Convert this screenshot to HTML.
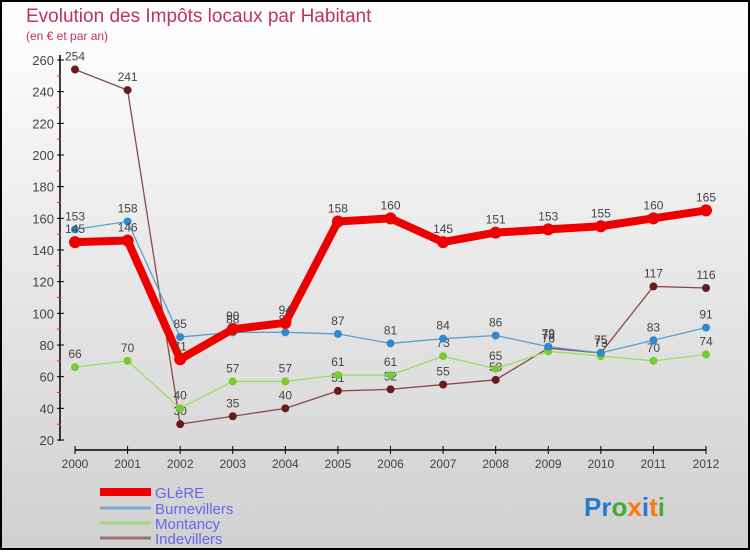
<!DOCTYPE html>
<html><head><meta charset="utf-8"><style>
body{margin:0}
svg text{font-family:"Liberation Sans",sans-serif}
</style></head><body>
<svg id="c" width="750" height="550" xmlns="http://www.w3.org/2000/svg">
<defs><linearGradient id="bg" x1="0" y1="0" x2="0" y2="1"><stop offset="0" stop-color="#ffffff"/><stop offset="1" stop-color="#d0d0d0"/></linearGradient></defs>
<rect x="1" y="1" width="748" height="548" fill="url(#bg)" stroke="#000" stroke-width="2"/>
<text x="26" y="22" font-size="19" fill="#c0306a">Evolution des Impôts locaux par Habitant</text>
<text x="26" y="40" font-size="12" fill="#c0306a">(en € et par an)</text>
<g id="axes"></g><g id="series"></g>
<g>
<line x1="100" y1="492" x2="151" y2="492" stroke="#ee0000" stroke-width="8"/>
<text x="155" y="498" font-size="15" fill="#6666ee">GLèRE</text>
<line x1="100" y1="508" x2="151" y2="508" stroke="#7aaad0" stroke-width="3"/>
<text x="155" y="514" font-size="15" fill="#6666ee">Burnevillers</text>
<line x1="100" y1="523" x2="151" y2="523" stroke="#a0d880" stroke-width="3"/>
<text x="155" y="529" font-size="15" fill="#6666ee">Montancy</text>
<line x1="100" y1="538" x2="151" y2="538" stroke="#a07070" stroke-width="3"/>
<text x="155" y="544" font-size="15" fill="#6666ee">Indevillers</text>
</g>
<g font-size="26" font-weight="bold">
<text x="584" y="516"><tspan fill="#2a7ac8">Pr</tspan><tspan fill="#44aa33">o</tspan><tspan fill="#ff7711">x</tspan><tspan fill="#2a7ac8">i</tspan><tspan fill="#ff7711">t</tspan><tspan fill="#44aa33">i</tspan></text>
</g>
</svg>
<script>
const years=[2000,2001,2002,2003,2004,2005,2006,2007,2008,2009,2010,2011,2012];
const yTicks=[20,40,60,80,100,120,140,160,180,200,220,240,260];
const glere=[145,146,71,90,94,158,160,145,151,153,155,160,165];
const burnevillers=[153,158,85,88,88,87,81,84,86,79,75,83,91];
const montancy=[66,70,40,57,57,61,61,73,65,76,73,70,74];
const indevillers=[254,241,30,35,40,51,52,55,58,78,75,117,116];
const NS="http://www.w3.org/2000/svg";
const xS=i=>75+i*(706-75)/(years.length-1);
const yS=v=>440-(v-20)*(380/240);
function mk(t,a,p){const e=document.createElementNS(NS,t);for(const k in a)e.setAttribute(k,a[k]);p.appendChild(e);return e;}
const ax=document.getElementById('axes');
let e=mk('line',{x1:60,y1:55,x2:60,y2:441,stroke:'#000','stroke-width':1.5},ax);


e=mk('line',{x1:75,y1:450,x2:706,y2:450,stroke:'#000','stroke-width':1.5},ax);


yTicks.forEach(v=>{
 mk('line',{x1:57,y1:yS(v),x2:64,y2:yS(v),stroke:'#000'},ax);
 if(v<260) mk('line',{x1:57,y1:yS(v+10),x2:61,y2:yS(v+10),stroke:'#f22'},ax);
 const t=mk('text',{x:54,y:yS(v)+5,'font-size':13,'text-anchor':'end',fill:'#444'},ax);t.textContent=v;
 
 
});
years.forEach((y,i)=>{
 mk('line',{x1:xS(i),y1:446,x2:xS(i),y2:454,stroke:'#000'},ax);
 const t=mk('text',{x:xS(i),y:468,'font-size':12,'text-anchor':'middle',fill:'#444'},ax);t.textContent=y;
 
 
});
const sg=document.getElementById('series');
function series(data,color,w,r,name,dot){
 const g=mk('g',{},sg);
 
 
 mk('polyline',{points:data.map((v,i)=>xS(i)+','+yS(v)).join(' '),fill:'none',stroke:color,'stroke-width':w,'stroke-linejoin':'round'},g);
 data.forEach((v,i)=>{
  const c=mk('circle',{cx:xS(i),cy:yS(v),r:r,fill:dot},g);
  
  
  const t=mk('text',{x:xS(i),y:yS(v)-9,'font-size':12,'text-anchor':'middle',fill:'#444'},g);t.textContent=v;
  
  
 });
}
series(indevillers,'#8a4a4a',1.3,4,'indevillers','#6a1a1a');
series(montancy,'#99dd66',1.3,4,'montancy','#77cc33');
series(burnevillers,'#5aa0d0',1.3,4,'burnevillers','#3388cc');
series(glere,'#ee0000',8,6,'glere','#ee0000');
</script>
</body></html>
